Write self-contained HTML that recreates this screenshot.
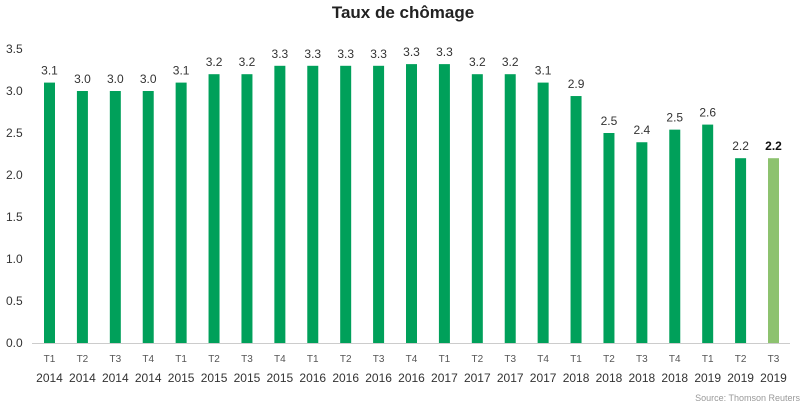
<!DOCTYPE html>
<html><head><meta charset="utf-8"><style>
body{margin:0;background:#fff;font-family:"Liberation Sans",sans-serif;}
svg text{font-family:"Liberation Sans",sans-serif;}
</style></head><body>
<svg id="chart" width="807" height="407" xmlns="http://www.w3.org/2000/svg">
<text x="403" y="18" text-anchor="middle" font-size="17" font-weight="bold" fill="#222">Taux de chômage</text>
<g id="yaxis"></g>
<g id="bars"></g>
<g id="xaxis"></g>
<text x="800" y="401" text-anchor="end" font-size="9" fill="#999">Source: Thomson Reuters</text>
</svg>
<script>
const quarters=["T1","T2","T3","T4","T1","T2","T3","T4","T1","T2","T3","T4","T1","T2","T3","T4","T1","T2","T3","T4","T1","T2","T3"];
const years=["2014","2014","2014","2014","2015","2015","2015","2015","2016","2016","2016","2016","2017","2017","2017","2017","2018","2018","2018","2018","2019","2019","2019"];
const values=[3.1,3.0,3.0,3.0,3.1,3.2,3.2,3.3,3.3,3.3,3.3,3.32,3.32,3.2,3.2,3.1,2.94,2.5,2.39,2.54,2.6,2.2,2.2];
const labels=["3.1","3.0","3.0","3.0","3.1","3.2","3.2","3.3","3.3","3.3","3.3","3.3","3.3","3.2","3.2","3.1","2.9","2.5","2.4","2.5","2.6","2.2","2.2"];
const yTicks=[0,0.5,1,1.5,2,2.5,3,3.5];
const yTickLabels=["0.0","0.5","1.0","1.5","2.0","2.5","3.0","3.5"];
const NS="http://www.w3.org/2000/svg";
const y0=343,pxPerUnit=84,x0=49.5,step=(773-49)/22;
const yScale=v=>y0-v*pxPerUnit;
const xScale=i=>x0+i*step*22/22;
function mk(tag,attrs,parent,txt){const e=document.createElementNS(NS,tag);for(const k in attrs)e.setAttribute(k,attrs[k]);if(txt!==undefined)e.textContent=txt;parent.appendChild(e);return e;}
const ya=document.getElementById('yaxis'),ba=document.getElementById('bars'),xa=document.getElementById('xaxis');
yTicks.forEach((t,i)=>{const e=mk('text',{x:6,y:yScale(t)+4,'font-size':12,fill:'#333'},ya,yTickLabels[i]);

});
const ax=mk('line',{x1:32,x2:790,y1:y0+0.5,y2:y0+0.5,stroke:'#ccc','stroke-width':1},xa);


values.forEach((v,i)=>{const last=i===values.length-1;const cx=xScale(i);
const r=mk('rect',{x:cx-5.5,y:yScale(v),width:11,height:y0-yScale(v),fill:last?'#8DC26F':'#00A05A'},ba);


const l=mk('text',{x:cx,y:yScale(v)-8,'text-anchor':'middle','font-size':12,fill:last?'#111':'#333','font-weight':last?'bold':'normal'},ba,labels[i]);


const q=mk('text',{x:cx,y:362,'text-anchor':'middle','font-size':10,fill:'#555'},xa,quarters[i]);


const yl=mk('text',{x:cx,y:382,'text-anchor':'middle','font-size':12,fill:'#333'},xa,years[i]);

});
</script>
</body></html>
